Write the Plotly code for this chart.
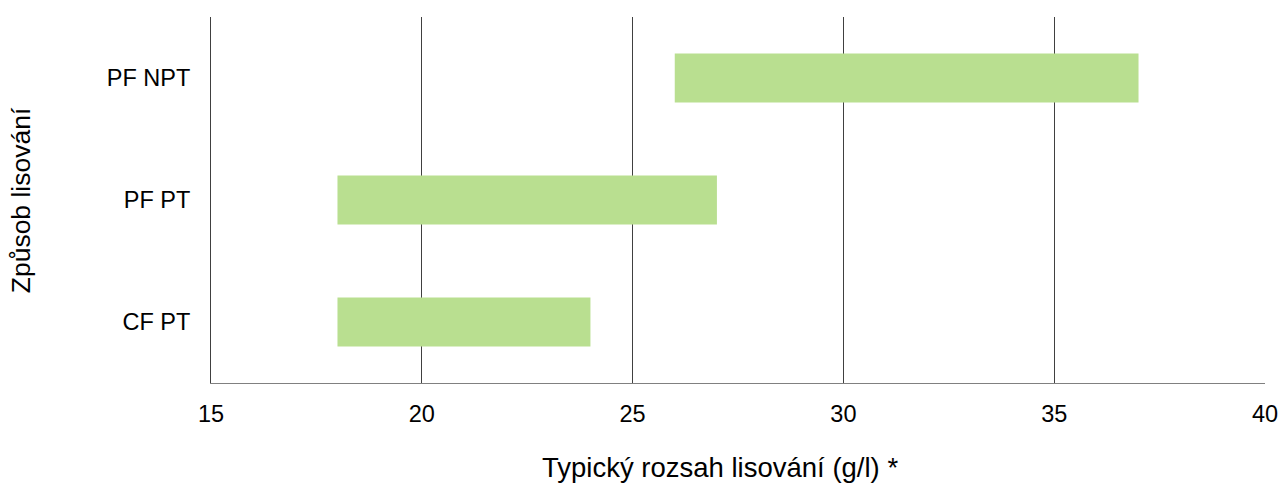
import plotly.graph_objects as go

categories = ["CF PT", "PF PT", "PF NPT"]
range_start = [18, 18, 26]
range_end = [24, 27, 37]
x_ticks = [15, 20, 25, 30, 35, 40]
x_title = "Typický rozsah lisování (g/l) *"
y_title = "Způsob lisování"

lengths = [e - s for s, e in zip(range_start, range_end)]

fig = go.Figure(go.Bar(
    y=categories, x=lengths, base=range_start, orientation="h",
    marker=dict(color="#B9DF90", line=dict(width=0)), width=0.4,
    hoverinfo="skip",
))

tick_font = dict(family="Liberation Sans, Arial, sans-serif", size=23.5, color="#000000")
xtitle_font = dict(family="Liberation Sans, Arial, sans-serif", size=27.5, color="#000000")
ytitle_font = dict(family="Liberation Sans, Arial, sans-serif", size=26.5, color="#000000")
fig.update_layout(
    width=1279, height=484,
    margin=dict(l=211, r=14, t=17, b=101),
    paper_bgcolor="white", plot_bgcolor="white",
    font=tick_font, showlegend=False,
    xaxis=dict(range=[15, 40], tickvals=x_ticks, showgrid=True, gridcolor="#404040", gridwidth=1,
               showline=True, linecolor="#808080", linewidth=1, zeroline=False, ticks="",
               tickfont=tick_font, ticklabelstandoff=10, automargin=False),
    yaxis=dict(range=[-0.5, 2.5], showgrid=False, showline=True, linecolor="#404040", linewidth=1,
               ticks="", tickfont=tick_font, ticklabelstandoff=15, automargin=False),
    annotations=[
        dict(text=x_title, xref="paper", yref="paper", x=0.483, y=-0.232,
             xanchor="center", yanchor="middle", showarrow=False, font=xtitle_font),
        dict(text=y_title, xref="paper", yref="paper", x=-0.180, y=0.5, textangle=-90,
             xanchor="center", yanchor="middle", showarrow=False, font=ytitle_font),
    ],
)
fig.write_html("out.html", config={"displayModeBar": False},
               post_script="document.body.style.margin='0';")
